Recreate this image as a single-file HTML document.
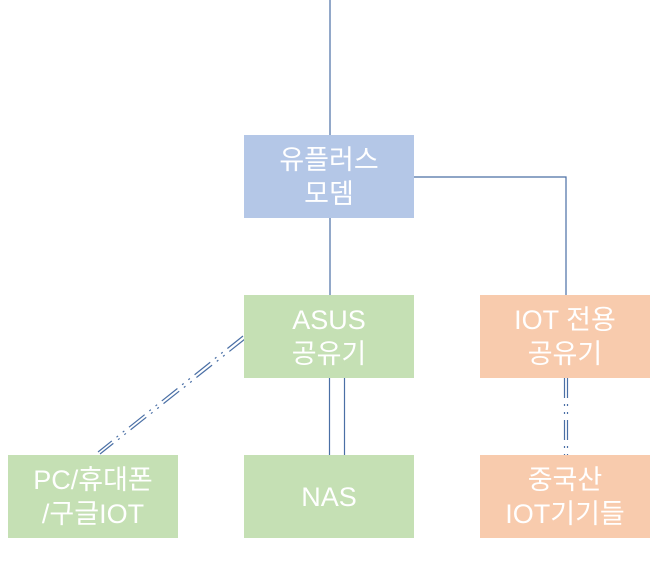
<html><body style="margin:0;width:669px;height:569px;background:#fff;position:relative;overflow:hidden;font-family:'Liberation Sans','Noto Sans CJK KR',sans-serif">
<svg width="669" height="569" style="position:absolute;left:0;top:0">
<g stroke="#4a6fa5" stroke-width="1.2" fill="none">
<line x1="330" y1="0" x2="330" y2="135"/>
<line x1="330" y1="218" x2="330" y2="295"/>
<polyline points="414,177 566,177 566,295"/>
<line x1="329.5" y1="378" x2="329.5" y2="455"/>
<line x1="344.5" y1="378" x2="344.5" y2="455"/>
<g stroke-dasharray="20,6,2,6,2,6">
<line x1="243" y1="336" x2="98" y2="452"/>
<line x1="245" y1="339" x2="100" y2="454"/>
<line x1="564.5" y1="378" x2="564.5" y2="455"/>
<line x1="567.5" y1="378" x2="567.5" y2="455"/>
</g></g></svg>
<style>.b{position:absolute;width:170px;height:83px;display:flex;align-items:center;justify-content:center;text-align:center;color:#fff;font-size:27px;line-height:34px}</style>
<div class="b" style="left:244px;top:135px;background:#b4c7e7">유플러스<br>모뎀</div>
<div class="b" style="left:244px;top:295px;background:#c5e0b4">ASUS<br>공유기</div>
<div class="b" style="left:480px;top:295px;background:#f8cbad">IOT 전용<br>공유기</div>
<div class="b" style="left:8px;top:455px;background:#c5e0b4">PC/휴대폰<br>/구글IOT</div>
<div class="b" style="left:244px;top:455px;background:#c5e0b4">NAS</div>
<div class="b" style="left:480px;top:455px;background:#f8cbad">중국산<br>IOT기기들</div>
</body></html>
